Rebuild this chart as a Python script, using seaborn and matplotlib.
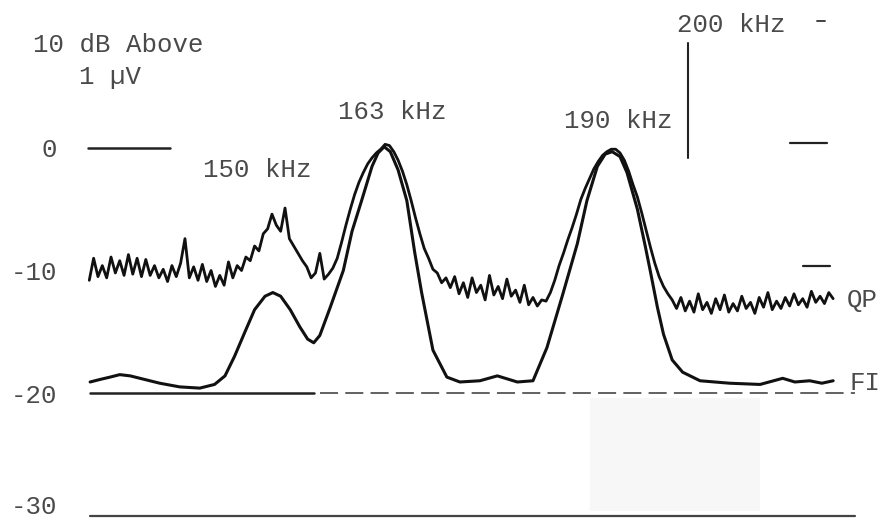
import numpy as np
import pandas as pd
import matplotlib
matplotlib.use("Agg")
import matplotlib.pyplot as plt
import matplotlib.transforms as mtransforms
import seaborn as sns

# ---------------- data ----------------
# FI trace: frequency (kHz) and level (dB above 1 uV)
fi_freq = [129.1, 130.2, 131.4, 132.5, 133.7, 135.4, 137.1, 139.4, 141.7, 143.4,
           144.6, 145.7, 146.9, 148.0, 149.2, 150.1, 151.0, 152.1, 153.2, 154.1,
           154.8, 155.5, 156.7, 158.2, 159.2, 160.3, 161.5, 162.2, 162.9, 163.6,
           164.5, 165.5, 166.4, 167.2, 168.5, 170.1, 171.6, 173.9, 175.9, 178.2,
           180.0, 181.6, 183.4, 185.1, 186.2, 187.4, 188.3, 189.1, 190.0, 190.8,
           191.4, 192.0, 192.9, 193.5, 194.3, 195.0, 196.0, 197.2, 199.2, 202.6,
           206.1, 208.7, 210.1, 211.8, 213.2, 214.5]
fi_db = [-19.1, -18.9, -18.7, -18.5, -18.6, -18.9, -19.2, -19.5, -19.6, -19.3,
         -18.6, -17.0, -15.0, -13.2, -12.1, -11.8, -12.1, -13.2, -14.6, -15.6,
         -15.9, -15.3, -13.0, -10.0, -6.8, -4.3, -1.5, -0.4, 0.1, -0.3,
         -1.8, -4.3, -8.5, -11.8, -16.5, -18.7, -19.1, -19.0, -18.6, -19.1,
         -19.0, -16.3, -12.0, -7.8, -4.3, -1.5, -0.5, -0.3, -0.7, -2.0,
         -3.5, -5.0, -8.0, -10.1, -13.0, -15.2, -17.3, -18.3, -19.0, -19.2,
         -19.3, -18.8, -19.1, -19.0, -19.2, -19.0]

# QP trace: sampled every 0.5 kHz from 129.0 kHz
qp_start_khz = 129.0
qp_step_khz = 0.5
qp_db = [
    -10.8, -9.0, -10.5, -9.6, -10.6, -8.9, -10.2, -9.2, -10.4, -8.7,      # 129.0-133.5
    -10.3, -9.0, -10.5, -9.1, -10.4, -9.6, -10.6, -9.9, -10.9, -9.6,      # 134.0-138.5
    -10.5, -9.4, -7.4, -10.6, -9.7, -10.8, -9.5, -10.9, -10.0, -11.3,     # 139.0-143.5
    -10.4, -11.2, -9.3, -10.6, -9.6, -10.0, -8.9, -9.2, -8.0, -8.4,       # 144.0-148.5
    -7.0, -6.6, -5.4, -6.3, -6.8, -4.9, -7.4, -8.0, -8.6, -9.2,           # 149.0-153.5
    -9.7, -10.6, -10.2, -8.6, -10.7, -10.3, -9.8, -9.0, -7.7, -6.3,       # 154.0-158.5
    -5.0, -3.8, -2.8, -2.0, -1.3, -0.8, -0.4, -0.1, 0.3, 0.2,             # 159.0-163.5
    -0.3, -1.0, -1.9, -3.0, -4.3, -5.7, -7.0, -8.2, -9.0, -9.9,           # 164.0-168.5
    -10.2, -11.0, -10.6, -11.4, -10.5, -11.9, -11.0, -12.2, -10.6, -11.8, # 169.0-173.5
    -11.2, -12.4, -10.4, -12.0, -11.3, -12.3, -10.7, -12.1, -11.6, -12.6, # 174.0-178.5
    -11.2, -12.8, -12.2, -12.9, -12.4, -12.5, -11.8, -10.8, -9.6, -8.6,   # 179.0-183.5
    -7.5, -6.5, -5.4, -4.2, -3.3, -2.5, -1.7, -1.1, -0.6, -0.3,           # 184.0-188.5
    -0.1, -0.1, -0.4, -1.0, -1.9, -3.0, -4.0, -5.3, -6.7, -8.1,           # 189.0-193.5
    -9.4, -10.5, -11.3, -11.9, -12.4, -13.1, -12.2, -13.3, -12.5, -13.4,  # 194.0-198.5
    -11.9, -13.2, -12.6, -13.5, -12.3, -13.2, -12.0, -13.4, -12.7, -13.3, # 199.0-203.5
    -12.1, -13.1, -12.6, -13.5, -12.2, -13.0, -11.8, -13.2, -12.5, -13.1, # 204.0-208.5
    -12.2, -12.9, -11.9, -12.8, -12.3, -13.0, -11.7, -12.6, -12.1, -12.7, # 209.0-213.5
    -11.8, -12.3,                                                          # 214.0-214.5
]

y_ticks = [0, -10, -20, -30]
y_tick_labels = ["0", "-10", "-20", "-30"]
peak_labels = ["150 kHz", "163 kHz", "190 kHz"]
peak_label_freq = [148.3, 163.8, 189.8]
peak_label_db = [-1.8, 2.9, 2.2]

# ---------------- figure ----------------
sns.set_theme(style="white")
plt.rcParams["font.family"] = ["Liberation Mono", "DejaVu Sans Mono"]

fig = plt.figure(figsize=(8.79, 5.23), dpi=100)
ax = fig.add_axes([0, 0, 1, 1])
ax.set_xlim(118.74, 219.77)
ax.set_ylim(-30.61, 12.08)
for s in ax.spines.values():
    s.set_visible(False)
ax.set_xticks([])

txt_color = "#4a4a4a"
fs = 18.5

# faint shaded patch in the lower right (scan artefact area)
ax.fill_between([186.6, 206.1], -29.6, -20.4, color="#f7f7f7", lw=0, zorder=0)

qp_freq = qp_start_khz + qp_step_khz * np.arange(len(qp_db))
df_qp = pd.DataFrame({"freq": qp_freq, "db": qp_db})
df_fi = pd.DataFrame({"freq": fi_freq, "db": fi_db})

sns.lineplot(data=df_qp, x="freq", y="db", ax=ax, color="#111111", lw=2.0,
             estimator=None, sort=False, zorder=3)
sns.lineplot(data=df_fi, x="freq", y="db", ax=ax, color="#111111", lw=2.2,
             estimator=None, sort=False, zorder=3)
ax.set_xlabel("")
ax.set_ylabel("")

# reference lines
ax.plot([128.9, 138.3], [0, 0], color="#222222", lw=1.8)
ax.plot([129.1, 154.8], [-20, -20], color="#222222", lw=1.8)
ax.plot([155.5, 217.0], [-20, -20], color="#555555", lw=1.3, ls=(0, (10, 4)))
ax.plot([129.1, 217.0], [-30, -30], color="#444444", lw=1.6)

# right-hand tick marks
ax.plot([212.6, 213.6], [10.4, 10.4], color="#333333", lw=1.3)
ax.plot([209.5, 213.8], [0.4, 0.4], color="#222222", lw=1.6)
ax.plot([211.0, 214.1], [-9.6, -9.6], color="#222222", lw=1.6)

# 200 kHz marker
ax.plot([197.8, 197.8], [8.6, -0.8], color="#222222", lw=1.5)
ax.text(202.8, 10.0, "200 kHz", ha="center", va="center", fontsize=fs, color=txt_color)

# y tick labels
ax.set_yticks(y_ticks)
ax.set_yticklabels(y_tick_labels)
ax.tick_params(axis="y", length=0, pad=-41, labelsize=fs, labelcolor=txt_color)
# lift the bottom label a little so it stays inside the figure
for lab in ax.get_yticklabels():
    if lab.get_text() == "-30":
        lab.set_transform(lab.get_transform() +
                          mtransforms.ScaledTranslation(0, 8 / 72, fig.dpi_scale_trans))

# unit label
ax.text(132.3, 8.4, "10 dB Above", ha="center", va="center", fontsize=fs, color=txt_color)
ax.text(131.4, 5.8, "1 µV", ha="center", va="center", fontsize=fs, color=txt_color)

# peak labels
for lab, fx, fy in zip(peak_labels, peak_label_freq, peak_label_db):
    ax.text(fx, fy, lab, ha="center", va="center", fontsize=fs, color=txt_color)

# trace labels
ax.text(216.1, -12.4, "QP", ha="left", va="center", fontsize=fs, color=txt_color)
ax.text(216.4, -19.2, "FI", ha="left", va="center", fontsize=fs, color=txt_color)

fig.savefig("out.png", dpi=100)
